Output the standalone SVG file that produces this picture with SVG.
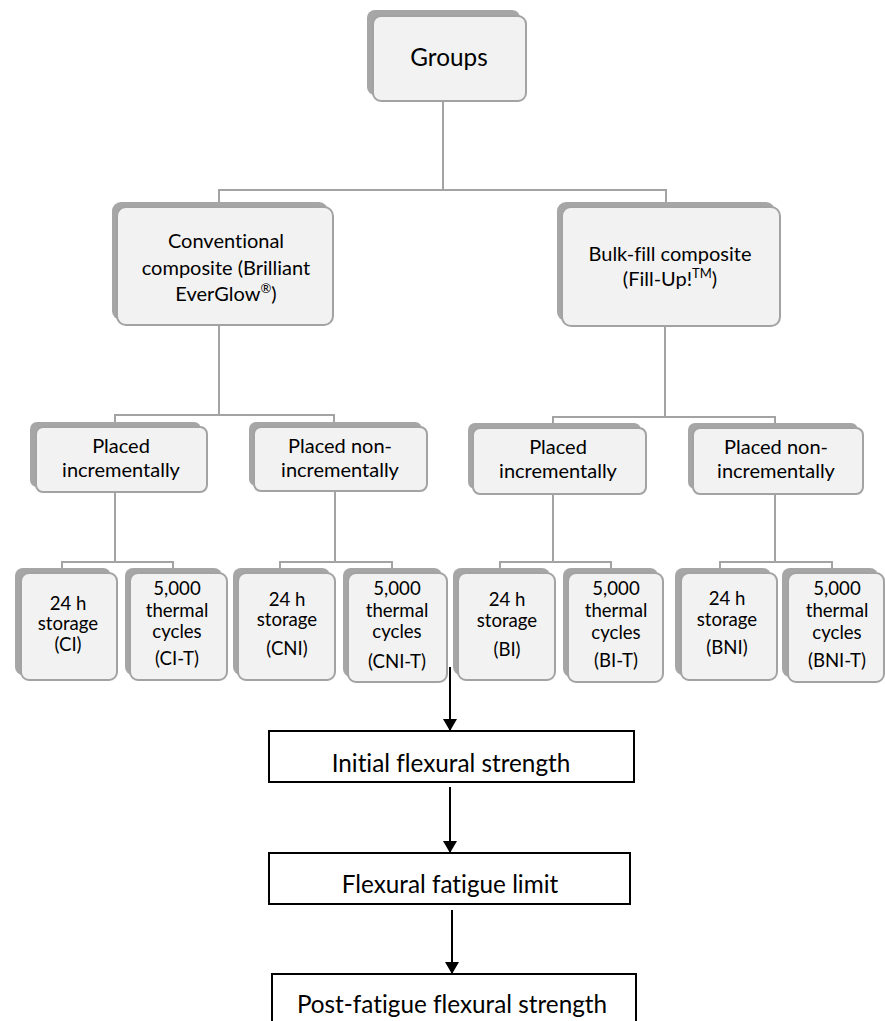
<svg xmlns="http://www.w3.org/2000/svg" width="885" height="1021" viewBox="0 0 885 1021">
<defs>
<style>
.sh{fill:#a6a6a6;stroke:none}
.fr{fill:#f2f2f2;stroke:#a3a3a3;stroke-width:2}
.t{font-family:Lato,"Open Sans","Liberation Sans",sans-serif;fill:#000;text-anchor:middle;font-variant-ligatures:none}
.big{font-size:24.3px}
.mid{font-size:20px}
.sm{font-size:18.6px}
.con{fill:none;stroke:#a3a3a3;stroke-width:2}
.arr{fill:none;stroke:#000;stroke-width:2;marker-end:url(#ah)}
.bx{fill:#fff;stroke:#000;stroke-width:2}
</style>
<marker id="ah" viewBox="0 0 12 14" refX="11" refY="7" markerWidth="12" markerHeight="14" markerUnits="userSpaceOnUse" orient="auto">
<path d="M0,0 L12,7 L0,14 Z" fill="#000"/>
</marker>
</defs>
<rect width="885" height="1021" fill="#fff"/>

<g id="connectors">
<path class="con" d="M443 101 V190 M219 207 V190 H666 V207"/>
<path class="con" d="M219 325 V415 M115 422 V415 H334 V422"/>
<path class="con" d="M665 326 V417 M553 423 V417 H775 V423"/>
<path class="con" d="M115 492 V562 M62 568 V562 H173 V568"/>
<path class="con" d="M335 491 V562 M280 568 V562 H392 V568"/>
<path class="con" d="M553 494 V562 M500 568 V562 H611 V568"/>
<path class="con" d="M775 494 V562 M720 568 V562 H832 V568"/>
<path class="arr" d="M450 667 V730"/>
<path class="arr" d="M450 787 V852"/>
<path class="arr" d="M452 910 V973"/>
</g>

<g id="groups">
<rect class="sh" x="367" y="10" width="153" height="85" rx="8"/>
<rect class="fr" x="373" y="16" width="153" height="85" rx="8"/>
<text class="t big" x="449" y="66">Groups</text>
</g>

<g id="conventional">
<rect class="sh" x="112" y="202" width="216" height="118" rx="9"/>
<rect class="fr" x="117" y="207" width="216" height="118" rx="9"/>
<text class="t mid" x="226" y="248">Conventional</text>
<text class="t mid" x="226" y="275">composite (Brilliant</text>
<text class="t mid" x="226" y="301">EverGlow<tspan font-size="13" dy="-8">®</tspan><tspan dy="8">)</tspan></text>
</g>

<g id="bulkfill">
<rect class="sh" x="557" y="202" width="218" height="119" rx="9"/>
<rect class="fr" x="562" y="207" width="218" height="119" rx="9"/>
<text class="t mid" x="670" y="261">Bulk-fill composite</text>
<text class="t mid" x="670" y="286">(Fill-Up!<tspan font-size="13" dy="-8">TM</tspan><tspan dy="8">)</tspan></text>
</g>

<g id="ci-placed">
<rect class="sh" x="30" y="422" width="171" height="65" rx="7"/>
<rect class="fr" x="36" y="427" width="171" height="65" rx="7"/>
<text class="t mid" x="121" y="453">Placed</text>
<text class="t mid" x="121" y="477">incrementally</text>
</g>

<g id="cni-placed">
<rect class="sh" x="249" y="422" width="173" height="64" rx="7"/>
<rect class="fr" x="254" y="427" width="173" height="64" rx="7"/>
<text class="t mid" x="340" y="453">Placed non-</text>
<text class="t mid" x="340" y="477">incrementally</text>
</g>

<g id="bi-placed">
<rect class="sh" x="468" y="423" width="173" height="66" rx="7"/>
<rect class="fr" x="473" y="428" width="173" height="66" rx="7"/>
<text class="t mid" x="558" y="454">Placed</text>
<text class="t mid" x="558" y="478">incrementally</text>
</g>

<g id="bni-placed">
<rect class="sh" x="688" y="423" width="170" height="66" rx="7"/>
<rect class="fr" x="693" y="428" width="170" height="66" rx="7"/>
<text class="t mid" x="776" y="454">Placed non-</text>
<text class="t mid" x="776" y="478">incrementally</text>
</g>

<g id="ci">
<rect class="sh" x="15" y="568" width="96" height="107" rx="8"/>
<rect class="fr" x="21" y="573" width="96" height="107" rx="8"/>
<text class="t sm" x="68" y="610">24 h</text>
<text class="t sm" x="68" y="630">storage</text>
<text class="t sm" x="68" y="651">(CI)</text>
</g>

<g id="ci-t">
<rect class="sh" x="125" y="568" width="97" height="107" rx="8"/>
<rect class="fr" x="130" y="573" width="97" height="107" rx="8"/>
<text class="t sm" x="177" y="595">5,000</text>
<text class="t sm" x="177" y="617">thermal</text>
<text class="t sm" x="177" y="638">cycles</text>
<text class="t sm" x="177" y="665">(CI-T)</text>
</g>

<g id="cni">
<rect class="sh" x="233" y="568" width="97" height="107" rx="8"/>
<rect class="fr" x="238" y="573" width="97" height="107" rx="8"/>
<text class="t sm" x="287" y="606">24 h</text>
<text class="t sm" x="287" y="626">storage</text>
<text class="t sm" x="287" y="655">(CNI)</text>
</g>

<g id="cni-t">
<rect class="sh" x="343" y="568" width="99" height="109" rx="8"/>
<rect class="fr" x="348" y="573" width="99" height="109" rx="8"/>
<text class="t sm" x="397" y="595">5,000</text>
<text class="t sm" x="397" y="617">thermal</text>
<text class="t sm" x="397" y="638">cycles</text>
<text class="t sm" x="397" y="668">(CNI-T)</text>
</g>

<g id="bi">
<rect class="sh" x="453" y="568" width="97" height="107" rx="8"/>
<rect class="fr" x="458" y="573" width="97" height="107" rx="8"/>
<text class="t sm" x="507" y="606">24 h</text>
<text class="t sm" x="507" y="627">storage</text>
<text class="t sm" x="507" y="656">(BI)</text>
</g>

<g id="bi-t">
<rect class="sh" x="563" y="568" width="95" height="109" rx="8"/>
<rect class="fr" x="568" y="573" width="95" height="109" rx="8"/>
<text class="t sm" x="616" y="595">5,000</text>
<text class="t sm" x="616" y="617">thermal</text>
<text class="t sm" x="616" y="639">cycles</text>
<text class="t sm" x="616" y="667">(BI-T)</text>
</g>

<g id="bni">
<rect class="sh" x="675" y="568" width="96" height="107" rx="8"/>
<rect class="fr" x="681" y="573" width="96" height="107" rx="8"/>
<text class="t sm" x="727" y="605">24 h</text>
<text class="t sm" x="727" y="626">storage</text>
<text class="t sm" x="727" y="654">(BNI)</text>
</g>

<g id="bni-t">
<rect class="sh" x="782" y="568" width="96" height="109" rx="8"/>
<rect class="fr" x="788" y="573" width="96" height="109" rx="8"/>
<text class="t sm" x="837" y="595">5,000</text>
<text class="t sm" x="837" y="617">thermal</text>
<text class="t sm" x="837" y="639">cycles</text>
<text class="t sm" x="837" y="667">(BNI-T)</text>
</g>

<g id="initial">
<rect class="bx" x="269" y="731" width="365" height="51"/>
<text class="t big" x="451" y="772">Initial flexural strength</text>
</g>

<g id="fatigue">
<rect class="bx" x="269" y="853" width="361" height="51"/>
<text class="t big" x="450" y="893">Flexural fatigue limit</text>
</g>

<g id="postfatigue">
<rect class="bx" x="272" y="974" width="364" height="60"/>
<text class="t big" x="452" y="1013">Post-fatigue flexural strength</text>
</g>
</svg>
